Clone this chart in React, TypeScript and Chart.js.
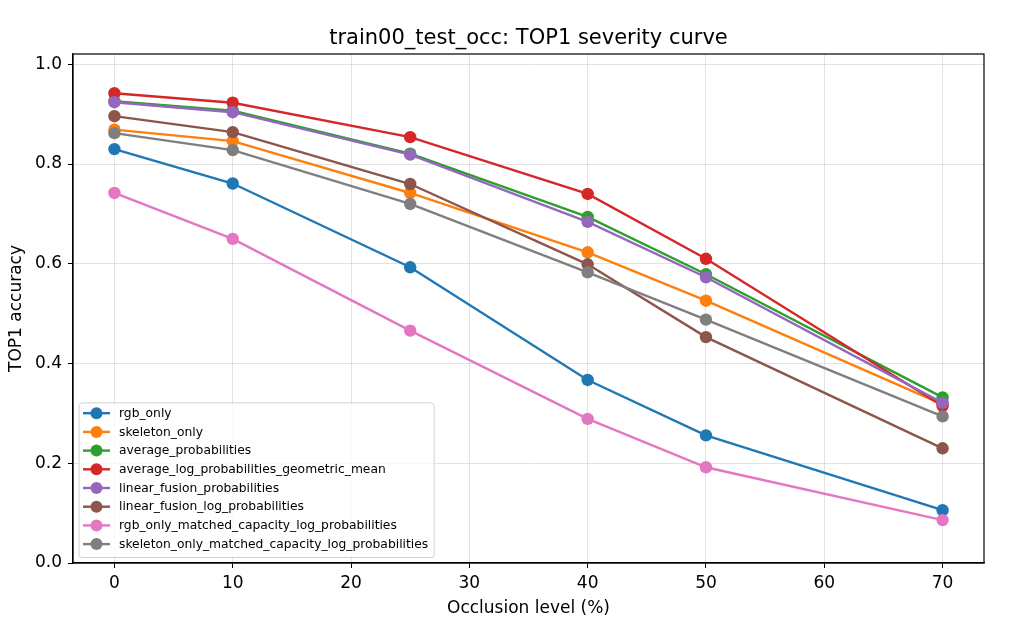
import { Chart, registerables } from "chart.js";
import type { ChartConfiguration, Plugin } from "chart.js";
import { useEffect, useRef } from "react";

Chart.register(...registerables);

const chartTitle = "train00_test_occ: TOP1 severity curve";
const occlusionLevels = [0, 10, 25, 40, 50, 70];
const xTickValues = [0, 10, 20, 30, 40, 50, 60, 70];
const yTickValues = [0, 0.2, 0.4, 0.6, 0.8, 1.0];

const seriesNames = [
  "rgb_only",
  "skeleton_only",
  "average_probabilities",
  "average_log_probabilities_geometric_mean",
  "linear_fusion_probabilities",
  "linear_fusion_log_probabilities",
  "rgb_only_matched_capacity_log_probabilities",
  "skeleton_only_matched_capacity_log_probabilities",
];

const rgbOnly = [0.83, 0.761, 0.593, 0.367, 0.256, 0.106];
const skeletonOnly = [0.869, 0.846, 0.742, 0.623, 0.526, 0.318];
const averageProbs = [0.926, 0.907, 0.821, 0.694, 0.579, 0.332];
const averageLogGeoMean = [0.942, 0.923, 0.854, 0.74, 0.61, 0.315];
const linearFusionProbs = [0.924, 0.904, 0.819, 0.684, 0.573, 0.321];
const linearFusionLogProbs = [0.896, 0.864, 0.76, 0.599, 0.453, 0.23];
const rgbMatchedLogProbs = [0.742, 0.65, 0.466, 0.289, 0.192, 0.086];
const skeletonMatchedLogProbs = [0.862, 0.828, 0.72, 0.583, 0.488, 0.294];

const seriesValues = [
  rgbOnly,
  skeletonOnly,
  averageProbs,
  averageLogGeoMean,
  linearFusionProbs,
  linearFusionLogProbs,
  rgbMatchedLogProbs,
  skeletonMatchedLogProbs,
];

const tab10 = [
  "#1f77b4",
  "#ff7f0e",
  "#2ca02c",
  "#d62728",
  "#9467bd",
  "#8c564b",
  "#e377c2",
  "#7f7f7f",
];

const FONT = "'DejaVu Sans', sans-serif";

// title, full frame and the in-axes legend (matplotlib style)
const framePlugin: Plugin<"line"> = {
  id: "mplFrame",
  afterDraw(chart) {
    const { ctx, chartArea: a } = chart;
    ctx.save();

    ctx.fillStyle = "#000";
    ctx.font = `21px ${FONT}`;
    ctx.textAlign = "center";
    ctx.textBaseline = "alphabetic";
    ctx.fillText(chartTitle, (a.left + a.right) / 2, 44);

    ctx.strokeStyle = "#000";
    ctx.lineWidth = 1.2;
    ctx.strokeRect(a.left, a.top, a.right - a.left, a.bottom - a.top);

    // legend
    ctx.font = `12.3px ${FONT}`;
    const rowH = 18.7;
    const textW = Math.max(...seriesNames.map((n) => ctx.measureText(n).width));
    const boxX = a.left + 6;
    const boxW = 40 + textW + 6;
    const boxH = rowH * seriesNames.length + 5;
    const boxY = a.bottom - 5.5 - boxH;
    ctx.beginPath();
    ctx.roundRect(boxX, boxY, boxW, boxH, 3);
    ctx.fillStyle = "rgba(255,255,255,0.8)";
    ctx.fill();
    ctx.strokeStyle = "#d0d0d0";
    ctx.lineWidth = 1;
    ctx.stroke();

    ctx.textAlign = "left";
    ctx.textBaseline = "middle";
    seriesNames.forEach((name, i) => {
      const cy = boxY + 10.3 + i * rowH;
      ctx.strokeStyle = tab10[i];
      ctx.lineWidth = 2.4;
      ctx.beginPath();
      ctx.moveTo(boxX + 4, cy);
      ctx.lineTo(boxX + 31, cy);
      ctx.stroke();
      ctx.fillStyle = tab10[i];
      ctx.beginPath();
      ctx.arc(boxX + 17.5, cy, 6, 0, Math.PI * 2);
      ctx.fill();
      ctx.fillStyle = "#000";
      ctx.fillText(name, boxX + 40, cy + 0.5);
    });

    ctx.restore();
  },
};

const App = () => {
  const canvasRef = useRef<HTMLCanvasElement>(null);

  useEffect(() => {
    document.body.style.margin = "0";
    const ctx = canvasRef.current?.getContext("2d");
    if (!ctx) {
      return;
    }

    const n = seriesNames.length;
    const config: ChartConfiguration<"line"> = {
      type: "line",
      data: {
        datasets: seriesNames.map((name, i) => ({
          label: name,
          data: occlusionLevels.map((x, j) => ({ x, y: seriesValues[i][j] })),
          borderColor: tab10[i],
          backgroundColor: tab10[i],
          borderWidth: 2.4,
          pointRadius: 6.2,
          pointBorderWidth: 0,
          pointBackgroundColor: tab10[i],
          tension: 0,
          order: n - i,
        })),
      },
      options: {
        animation: false,
        responsive: false,
        devicePixelRatio: 1,
        layout: { padding: { top: 54, right: 40, bottom: 0, left: 0 } },
        plugins: {
          legend: { display: false },
          title: { display: false },
          tooltip: { enabled: false },
        },
        scales: {
          x: {
            type: "linear",
            min: -3.5,
            max: 73.5,
            afterBuildTicks: (scale) => {
              scale.ticks = xTickValues.map((value) => ({ value }));
            },
            afterFit: (scale) => {
              scale.height = 67;
            },
            ticks: {
              color: "#000",
              font: { family: FONT, size: 17 },
              padding: 5,
              maxRotation: 0,
              callback: (v) => String(v),
            },
            grid: {
              color: "rgba(200,200,200,0.5)",
              lineWidth: 1,
              tickColor: "#000",
              tickLength: 5,
            },
            border: { color: "#000", width: 1.2 },
            title: {
              display: true,
              text: "Occlusion level (%)",
              color: "#000",
              font: { family: FONT, size: 17 },
              padding: { top: 0, bottom: 11 },
            },
          },
          y: {
            type: "linear",
            min: 0,
            max: 1.0207,
            afterBuildTicks: (scale) => {
              scale.ticks = yTickValues.map((value) => ({ value }));
            },
            afterFit: (scale) => {
              scale.width = 73;
            },
            ticks: {
              color: "#000",
              font: { family: FONT, size: 17 },
              padding: 6,
              callback: (v) => Number(v).toFixed(1),
            },
            grid: {
              color: "rgba(200,200,200,0.5)",
              lineWidth: 1,
              tickColor: "#000",
              tickLength: 5,
            },
            border: { color: "#000", width: 1.2 },
            title: {
              display: true,
              text: "TOP1 accuracy",
              color: "#000",
              font: { family: FONT, size: 17 },
              padding: { top: 6, bottom: 0 },
            },
          },
        },
      },
      plugins: [framePlugin],
    };

    const chart = new Chart(ctx, config);

    return () => {
      chart.destroy();
    };
  }, []);

  return (
    <div style={{ width: 1024, height: 630 }}>
      <canvas ref={canvasRef} width={1024} height={630} />
    </div>
  );
};

export default App;
